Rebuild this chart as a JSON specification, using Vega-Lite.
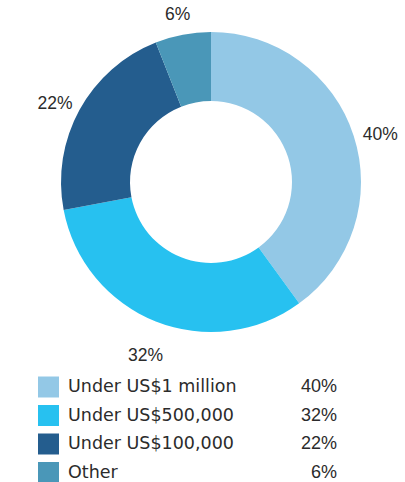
{
  "$schema": "https://vega.github.io/schema/vega-lite/v6.json",
  "padding": 0,
  "spacing": 0,
  "background": "white",
  "config": {"view": {"stroke": null}, "font": "Liberation Sans"},
  "data": {"values": [
    {"idx": 1, "category": "Under US$1 million", "value": 40, "label": "40%"},
    {"idx": 2, "category": "Under US$500,000", "value": 32, "label": "32%"},
    {"idx": 3, "category": "Under US$100,000", "value": 22, "label": "22%"},
    {"idx": 4, "category": "Other", "value": 6, "label": "6%"}
  ]},
  "vconcat": [
    {
      "width": 405,
      "height": 364,
      "encoding": {
        "theta": {"field": "value", "type": "quantitative", "stack": true},
        "order": {"field": "idx", "type": "quantitative"},
        "color": {
          "field": "category", "type": "nominal", "legend": null,
          "scale": {
            "domain": ["Under US$1 million", "Under US$500,000", "Under US$100,000", "Other"],
            "range": ["#93c8e6", "#27c1f0", "#245d8e", "#4a97b8"]
          }
        }
      },
      "layer": [
        {"mark": {"type": "arc", "outerRadius": 150, "innerRadius": 81, "xOffset": 8.5}},
        {
          "mark": {"type": "text", "radius": 178, "xOffset": 8.5, "yOffset": 8, "fontSize": 17.5, "baseline": "middle", "align": "center"},
          "encoding": {"text": {"field": "label"}, "color": {"value": "#2b2b2b"}}
        }
      ]
    },
    {
      "width": 405,
      "height": 118,
      "encoding": {
        "y": {
          "field": "category", "type": "nominal", "axis": null, "sort": {"field": "idx"},
          "scale": {"type": "point", "padding": 0, "range": [22, 107.5]}
        }
      },
      "layer": [
        {
          "mark": {"type": "square", "size": 441, "x": 48.5, "opacity": 1},
          "encoding": {
            "color": {
              "field": "category", "type": "nominal", "legend": null,
              "scale": {
                "domain": ["Under US$1 million", "Under US$500,000", "Under US$100,000", "Other"],
                "range": ["#93c8e6", "#27c1f0", "#245d8e", "#4a97b8"]
              }
            }
          }
        },
        {
          "mark": {"type": "text", "x": 68, "align": "left", "baseline": "middle", "fontSize": 17.5, "font": "DejaVu Sans", "color": "#2b2b2b"},
          "encoding": {"text": {"field": "category"}}
        },
        {
          "mark": {"type": "text", "x": 337, "align": "right", "baseline": "middle", "fontSize": 18, "color": "#2b2b2b"},
          "encoding": {"text": {"field": "label"}}
        }
      ]
    }
  ]
}
